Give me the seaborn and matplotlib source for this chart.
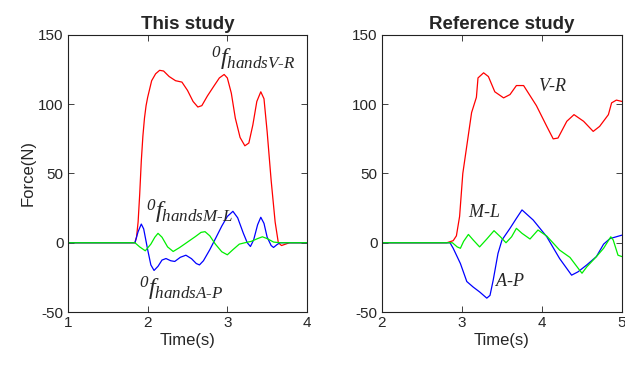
import numpy as np
import pandas as pd
import matplotlib
matplotlib.use("Agg")
import matplotlib.pyplot as plt
import seaborn as sns

# ---- This study ----
t_vr_a = [1.0, 1.84, 1.86, 1.88, 1.9, 1.92, 1.94, 1.96, 1.98, 2.0, 2.05, 2.1, 2.15, 2.2, 2.27, 2.35, 2.43,
          2.5, 2.57, 2.63, 2.68, 2.75, 2.83, 2.9, 2.96, 3.0, 3.05, 3.1, 3.16, 3.22, 3.27, 3.32, 3.37,
          3.42, 3.46, 3.5, 3.55, 3.6, 3.64, 3.68, 3.73, 3.78, 4.0]
f_vr_a = [0, 0, 4, 15, 35, 59, 77, 90, 99, 105, 117, 122, 124.5, 124, 120, 117, 116,
          110, 102, 98, 99, 106, 113, 119, 121.5, 119, 108, 90, 76, 70, 72, 85, 102,
          109, 104, 80, 45, 15, 0, -2, -1, 0, 0]

t_ap_a = [1.0, 1.84, 1.88, 1.92, 1.95, 2.0, 2.04, 2.08, 2.13, 2.18, 2.23, 2.29, 2.34, 2.41, 2.48, 2.55,
          2.61, 2.65, 2.7, 2.78, 2.86, 2.93, 3.0, 3.07, 3.13, 3.2, 3.25, 3.29, 3.33, 3.38, 3.42, 3.46,
          3.5, 3.55, 3.58, 3.62, 3.66, 4.0]
f_ap_a = [0, 0, 8, 13.5, 10, -5, -16, -20, -17, -12.5, -11.4, -13, -13.5, -10.5, -9, -11.5,
          -15, -16, -13, -5, 4, 12, 19, 22.7, 18, 7, 0, -2.7, 2, 13, 18.4, 14,
          4, -2, -3.4, -1.5, 0, 0]

t_ml_a = [1.0, 1.84, 1.9, 1.97, 2.04, 2.09, 2.13, 2.18, 2.25, 2.32, 2.4, 2.5, 2.6, 2.67, 2.72, 2.78,
          2.85, 2.93, 3.0, 3.07, 3.15, 3.22, 3.3, 3.38, 3.44, 3.5, 3.58, 3.66, 4.0]
f_ml_a = [0, 0, -3, -5.8, -1, 4, 6.8, 4, -3, -6.3, -3.5, 0.5, 4.5, 7.5, 8, 5,
          -1, -6.5, -8.7, -5, -1, 0, 1, 3, 4.3, 3, 0.5, 0, 0]

# ---- Reference study ----
t_vr_b = [2.0, 2.81, 2.89, 2.93, 2.97, 3.01, 3.06, 3.12, 3.18, 3.2, 3.27, 3.33, 3.41, 3.52, 3.6, 3.68,
          3.77, 3.93, 4.06, 4.14, 4.2, 4.31, 4.4, 4.52, 4.64, 4.72, 4.83, 4.87, 4.93, 5.0]
f_vr_b = [0, 0, 1.5, 5, 19, 50, 70, 94, 105, 119, 122.7, 120, 109, 104.6, 107, 113.5,
          113.5, 99, 84, 75, 75.6, 87.7, 92.5, 87.7, 80.4, 84, 92.5, 101, 103, 102]

t_ap_b = [2.0, 2.85, 2.89, 2.98, 3.06, 3.14, 3.22, 3.31, 3.35, 3.39, 3.45, 3.5, 3.6, 3.68, 3.75, 3.89,
          4.06, 4.22, 4.37, 4.45, 4.56, 4.68, 4.77, 4.85, 5.0]
f_ap_b = [0, 0, -4, -15, -28, -32, -35.5, -40, -38, -27, -7.7, 2, 10.4, 17.6, 23.7, 16.4,
          4.3, -11.4, -23.4, -21, -16, -10, -1, 3, 5.5]

t_ml_b = [2.0, 2.88, 2.94, 2.98, 3.02, 3.08, 3.14, 3.22, 3.31, 3.4, 3.48, 3.55, 3.62, 3.68, 3.75, 3.85,
          3.95, 4.06, 4.22, 4.35, 4.47, 4.5, 4.56, 4.68, 4.77, 4.86, 4.89, 4.95, 5.0]
f_ml_b = [0, 0, -3, -4, 1, 6, 2, -3, 2.7, 8.7, 4.3, 0, 4.3, 10.4, 6.8, 2.7,
          9.2, 4.8, -5.3, -10.6, -19.8, -22, -17.4, -10, -4, 4.3, 2, -9, -10]

titles = ["This study", "Reference study"]
xlims = [(1, 4), (2, 5)]
xticks = [[1, 2, 3, 4], [2, 3, 4, 5]]
yticks = [-50, 0, 50, 100, 150]

sns.set_theme(style="white")
plt.rcParams['font.family'] = ['Liberation Sans', 'DejaVu Sans']
plt.rcParams['axes.unicode_minus'] = False
plt.rcParams['mathtext.fontset'] = 'custom'
plt.rcParams['mathtext.it'] = 'Liberation Serif:italic'
plt.rcParams['mathtext.rm'] = 'Liberation Serif:italic'

fig = plt.figure(figsize=(6.25, 3.66), dpi=100)
ax1 = fig.add_axes([68/625, 1-312/366, (307-68)/625, (312-35)/366])
ax2 = fig.add_axes([382/625, 1-312/366, (622-382)/625, (312-35)/366])

datasets = [
    [(t_vr_a, f_vr_a, 'red'), (t_ap_a, f_ap_a, 'blue'), (t_ml_a, f_ml_a, '#00ee00')],
    [(t_vr_b, f_vr_b, 'red'), (t_ap_b, f_ap_b, 'blue'), (t_ml_b, f_ml_b, '#00ee00')],
]

for ax, ds, title, xl, xt in zip([ax1, ax2], datasets, titles, xlims, xticks):
    for t, f, c in ds:
        df = pd.DataFrame({"t": t, "f": f})
        sns.lineplot(data=df, x="t", y="f", ax=ax, color=c, linewidth=0.9, sort=False)
    ax.set_xlim(*xl)
    ax.set_ylim(-50, 150)
    ax.set_xticks(xt)
    ax.set_yticks(yticks)
    ax.set_title(title, fontsize=13.5, fontweight='bold', pad=4)
    ax.set_xlabel("Time(s)", fontsize=12, labelpad=2)
    ax.set_ylabel("")
    ax.tick_params(direction='in', top=True, right=True, length=4, width=0.6,
                   labelsize=11, pad=3, color='#222222', bottom=True, left=True)
    for s in ax.spines.values():
        s.set_visible(True)
        s.set_color('#222222')
        s.set_linewidth(0.8)

ax1.set_ylabel("Force(N)", fontsize=12, labelpad=2)

ax1.text(2.79, 133, r'${}^{0}f_{handsV\text{-}R}$', fontsize=17.5, va='center', ha='left')
ax1.text(1.98, 22, r'${}^{0}f_{handsM\text{-}L}$', fontsize=17.5, va='center', ha='left')
ax1.text(1.89, -33, r'${}^{0}f_{handsA\text{-}P}$', fontsize=17.5, va='center', ha='left')

ax2.text(3.95, 113, r'$V\text{-}R$', fontsize=13, va='center', ha='left')
ax2.text(3.08, 22, r'$M\text{-}L$', fontsize=13, va='center', ha='left')
ax2.text(3.41, -28, r'$A\text{-}P$', fontsize=13, va='center', ha='left')

fig.savefig("out.png", dpi=100)
